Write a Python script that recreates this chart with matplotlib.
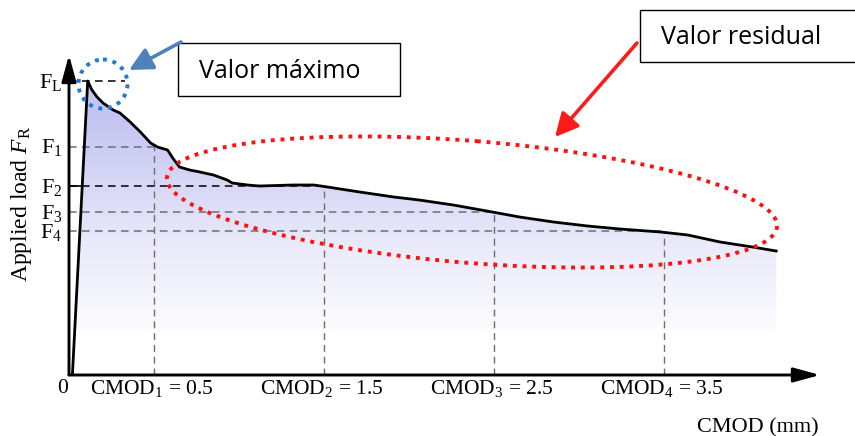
import numpy as np
import matplotlib
matplotlib.use("Agg")
import matplotlib.pyplot as plt
from matplotlib.patches import Ellipse, Circle, Rectangle, Polygon
from matplotlib.colors import LinearSegmentedColormap

plt.rcParams["mathtext.fontset"] = "custom"
plt.rcParams["mathtext.rm"] = "Liberation Serif"
plt.rcParams["mathtext.it"] = "Liberation Serif:italic"
plt.rcParams["font.family"] = ["Liberation Serif", "DejaVu Sans"]

# Load - CMOD curve (CMOD in mm, load in arbitrary units)
cmod = [0.02, 0.11, 0.135, 0.165, 0.20, 0.26, 0.30, 0.36, 0.42, 0.48, 0.52,
        0.58, 0.61, 0.65, 0.71, 0.77, 0.85, 0.93, 0.96, 1.05, 1.12, 1.32,
        1.44, 1.52, 1.71, 1.91, 2.06, 2.26, 2.49, 2.65, 2.85, 3.05, 3.24,
        3.48, 3.64, 3.83, 4.02, 4.16]
load = [0.0, 29.4, 28.5, 27.8, 27.2, 26.5, 26.2, 25.3, 24.3, 23.2, 22.8,
        22.5, 21.7, 20.8, 20.5, 20.3, 20.0, 19.5, 19.2, 19.0, 18.9, 19.0,
        19.0, 18.8, 18.3, 17.8, 17.5, 17.0, 16.3, 15.8, 15.3, 14.9, 14.6,
        14.3, 14.0, 13.3, 12.8, 12.4]

# Characteristic points
cmod_marks = [0.5, 1.5, 2.5, 3.5]
cmod_labels = ["CMOD$_\\mathregular{1}$ = 0.5", "CMOD$_\\mathregular{2}$ = 1.5",
               "CMOD$_\\mathregular{3}$ = 2.5", "CMOD$_\\mathregular{4}$ = 3.5"]
f_limit = 29.4
f_limit_reach = 0.33
f_residual = [22.8, 18.9, 16.3, 14.4]
f_labels = ["F$_\\mathregular{L}$", "F$_\\mathregular{1}$", "F$_\\mathregular{2}$",
            "F$_\\mathregular{3}$", "F$_\\mathregular{4}$"]

W, H = 855, 436
fig = plt.figure(figsize=(W / 100, H / 100), dpi=100)
fig.patch.set_facecolor("white")

x0_px, x1_px, y0_px, y1_px = 69, 820, 375, 55
ax = fig.add_axes([x0_px / W, (H - y0_px) / H, (x1_px - x0_px) / W, (y0_px - y1_px) / H])
xmax, ymax = (x1_px - x0_px) / 170.0, (y0_px - y1_px) / 10.0
ax.set_xlim(0, xmax)
ax.set_ylim(0, ymax)
ax.axis("off")

# Gradient fill under the curve
cmap = LinearSegmentedColormap.from_list("lav", ["#ffffff", "#ebebfb", "#c4c4f2"])
yy = np.linspace(0, ymax, 300)
t = np.clip((yy - 4.0) / 22.0, 0, 1) ** 0.75
grad = t[:, None] * np.ones((1, 2))
poly = Polygon(list(zip(cmod, load)) + [(cmod[-1], 0), (cmod[0], 0)],
               closed=True, facecolor="none", edgecolor="none")
ax.add_patch(poly)
im = ax.imshow(grad, extent=[0, cmod[-1], 0, ymax], origin="lower", cmap=cmap,
               vmin=0, vmax=1, aspect="auto", zorder=1)
im.set_clip_path(poly)

# Reference dashed lines
dash = (0, (5, 3.5))
ax.plot([0, f_limit_reach], [f_limit, f_limit], color="black", lw=1.1, ls=dash, zorder=2)
for i, (xm, fr) in enumerate(zip(cmod_marks, f_residual)):
    col = "black" if i == 1 else "#6e6e6e"
    ax.plot([0, xm], [fr, fr], color=col, lw=1.1, ls=dash, zorder=2)
    ax.plot([xm, xm], [0, fr], color="#6e6e6e", lw=1.0, ls=dash, zorder=2)
ax.plot([-0.01, 0.075], [f_residual[1], f_residual[1]], color="black", lw=1.2, zorder=2)

# Curve
ax.plot(cmod, load, color="black", lw=2.0, zorder=3, solid_joinstyle="round")

# Axes with arrows
arrow = dict(arrowstyle="-|>,head_length=0.8,head_width=0.22", lw=2.1, color="black",
             mutation_scale=20, shrinkA=0, shrinkB=0)
ax.annotate("", xy=(xmax, 0), xytext=(0, 0), arrowprops=arrow, annotation_clip=False, zorder=4)
ax.annotate("", xy=(0, ymax), xytext=(0, 0), arrowprops=arrow, annotation_clip=False, zorder=4)

# Tick labels
for f, lab in zip([f_limit] + f_residual, f_labels):
    ax.text(-0.04, f - 0.1, lab, ha="right", va="center", fontsize=16)
ax.text(-0.04, -1.3, "0", ha="center", va="center", fontsize=15.5)
for xm, lab in zip(cmod_marks, cmod_labels):
    ax.text(xm - 0.01, -1.3, lab, ha="center", va="center", fontsize=15.5)
ax.text(xmax - 0.01, -5.3, "CMOD (mm)", ha="right", va="center", fontsize=16)
ax.text(-0.28, 17.1, "Applied load $\\mathit{F}_\\mathregular{R}$", rotation=90,
        ha="center", va="center", fontsize=17)

# Annotation layer in pixel coordinates
ov = fig.add_axes([0, 0, 1, 1], zorder=10)
ov.set_xlim(0, W)
ov.set_ylim(H, 0)
ov.axis("off")
ov.patch.set_alpha(0)

ov.add_patch(Circle((103, 84), 24.5, fill=False, edgecolor="#1f7ad4", lw=2.8,
                    ls=(0, (1, 1.5))))
ov.add_patch(Ellipse((472, 202), 612, 122, angle=4.6, fill=False, edgecolor="#ff1010",
                     lw=2.8, ls=(0, (1, 1.5))))

ov.annotate("", xy=(129, 70), xytext=(181, 42),
            arrowprops=dict(arrowstyle="-|>,head_length=0.7,head_width=0.35", lw=2.6,
                            color="#4f81bd", mutation_scale=20, shrinkA=0, shrinkB=0))
ov.annotate("", xy=(555, 137), xytext=(637, 43),
            arrowprops=dict(arrowstyle="-|>,head_length=0.7,head_width=0.35", lw=2.6,
                            color="#ff1a1a", mutation_scale=20, shrinkA=0, shrinkB=0))

ov.add_patch(Rectangle((178, 43), 222, 53, fill=True, facecolor="white",
                       edgecolor="black", lw=1.0))
ov.text(199, 71, "Valor máximo", ha="left", va="center", fontsize=18,
        family=["Open Sans", "DejaVu Sans"])
ov.add_patch(Rectangle((640, 10), 216, 52, fill=True, facecolor="white",
                       edgecolor="black", lw=1.0))
ov.text(661, 37, "Valor residual", ha="left", va="center", fontsize=18,
        family=["Open Sans", "DejaVu Sans"])

fig.savefig("out.png", dpi=100)
